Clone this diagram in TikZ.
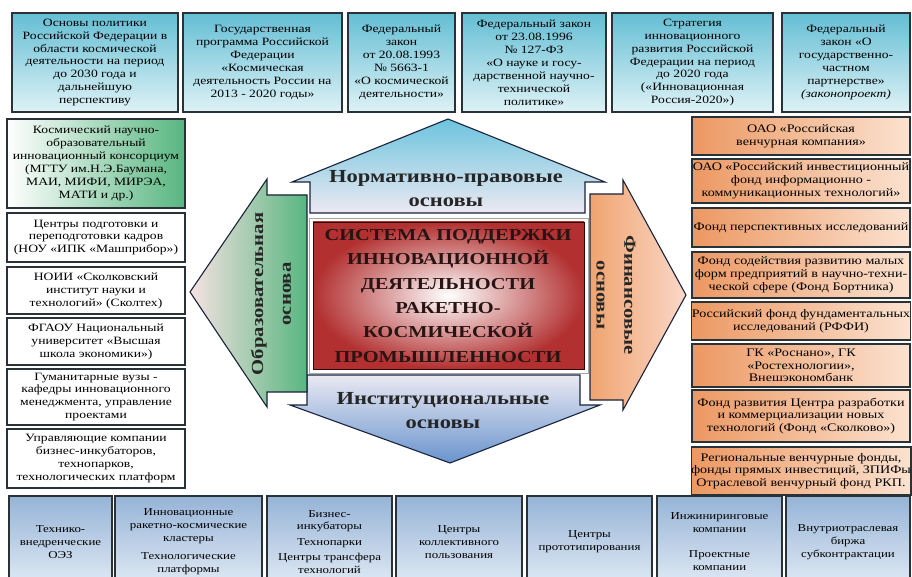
\documentclass[tikz,border=0pt]{standalone}
\usepackage{fontspec}
\setmainfont{Liberation Serif}[FakeStretch=1.22]
\usepackage{xcolor}
\usepackage{tikz}
\usetikzlibrary{positioning,shapes.geometric,calc}

\definecolor{edgegray}{RGB}{40,50,55}
\definecolor{arrowedge}{RGB}{25,35,60}
\definecolor{lawdark}{RGB}{100,190,212}
\definecolor{lawlight}{RGB}{222,242,246}
\definecolor{instdark}{RGB}{150,180,215}
\definecolor{instlight}{RGB}{226,235,245}
\definecolor{findark}{RGB}{236,152,98}
\definecolor{finlight}{RGB}{251,226,208}
\definecolor{edugreen}{RGB}{88,182,128}
\definecolor{corered}{RGB}{178,48,48}

\tikzset{
  box/.style={draw=edgegray, line width=1.1bp, align=center, inner sep=0pt,
    font=\fontsize{11.2}{13}\selectfont, text=black},
  every node/.style={anchor=center}
}

\begin{document}
\begin{tikzpicture}[
  x=1bp, y=-1bp,
  lawbox/.style={box, top color=lawdark, bottom color=lawlight, minimum height=99bp},
  edubox/.style={box, fill=white, minimum width=178bp},
  finbox/.style={box, left color=findark, right color=finlight, minimum width=218bp,
    font=\fontsize{11.6}{12.8}\selectfont},
  instbox/.style={box, top color=instdark, bottom color=instlight, minimum height=92bp,
    font=\fontsize{10.6}{13}\selectfont},
  bigarrow/.style={draw=arrowedge, line width=1.1bp, line join=miter},
  arrowtext/.style={align=center, font=\bfseries\fontsize{18.5}{24}\selectfont, text=black!85}
]
\useasboundingbox (0,0) rectangle (912,577);
\fill[white] (0,0) rectangle (912,577);
\clip (0,0) rectangle (912,577);

% top row: legal base
\node[lawbox, minimum width=166bp] (lawA) at (95,62.5)
  {Основы политики\\Российской Федерации в\\области космической\\деятельности на период\\до 2030 года и\\дальнейшую\\перспективу};
\node[lawbox, minimum width=159bp] (lawB) at (262.5,62.5)
  {Государственная\\программа Российской\\Федерации\\«Космическая\\деятельность России на\\2013 - 2020 годы»};
\node[lawbox, minimum width=107bp] (lawC) at (401.5,62.5)
  {Федеральный\\закон\\от 20.08.1993\\№ 5663-1\\«О космической\\деятельности»};
\node[lawbox, minimum width=144bp] (lawD) at (534,62.5)
  {Федеральный закон\\от 23.08.1996\\№ 127-ФЗ\\«О науке и госу-\\дарственной научно-\\технической\\политике»};
\node[lawbox, minimum width=161bp] (lawE) at (692.5,62.5)
  {Стратегия\\инновационного\\развития Российской\\Федерации на период\\до 2020 года\\(«Инновационная\\Россия-2020»)};
\node[lawbox, minimum width=128bp] (lawF) at (846,62.5)
  {Федеральный\\закон «О\\государственно-\\частном\\партнерстве»\\\textit{(законопроект)}};

% left column: education
\node[edubox, minimum height=89bp, left color=white, right color=edugreen] (eduA) at (96,163.5)
  {Космический научно-\\образовательный\\инновационный консорциум\\(МГТУ им.Н.Э.Баумана,\\МАИ, МИФИ, МИРЭА,\\МАТИ и др.)};
\node[edubox, minimum height=49bp] (eduB) at (96,237.5)
  {Центры подготовки и\\переподготовки кадров\\(НОУ «ИПК «Машприбор»)};
\node[edubox, minimum height=47bp] (eduC) at (96,290.5)
  {НОИИ «Сколковский\\институт науки и\\технологий» (Сколтех)};
\node[edubox, minimum height=47bp] (eduD) at (96,341.5)
  {ФГАОУ Национальный\\университет «Высшая\\школа экономики»)};
\node[edubox, minimum height=56bp] (eduE) at (96,397)
  {Гуманитарные вузы -\\кафедры инновационного\\менеджмента, управление\\проектами};
\node[edubox, minimum height=59bp] (eduF) at (96,458.5)
  {Управляющие компании\\бизнес-инкубаторов,\\технопарков,\\технологических платформ};

% right column: finance
\node[finbox, minimum height=38bp] (finA) at (801,136)
  {ОАО «Российская\\венчурная компания»};
\node[finbox, minimum height=44bp] (finB) at (801,181)
  {ОАО «Российский инвестиционный\\фонд информационно -\\коммуникационных технологий»};
\node[finbox, minimum height=39bp] (finC) at (801,227.5)
  {Фонд перспективных исследований};
\node[finbox, minimum height=46bp] (finD) at (801,275)
  {Фонд содействия развитию малых\\форм предприятий в научно-техни-\\ческой сфере (Фонд Бортника)};
\node[finbox, minimum height=38bp] (finE) at (801,321)
  {Российский фонд фундаментальных\\исследований (РФФИ)};
\node[finbox, minimum height=43bp] (finF) at (801,365.5)
  {ГК «Роснано», ГК\\«Ростехнологии»,\\Внешэкономбанк};
\node[finbox, minimum height=52bp] (finG) at (801,416)
  {Фонд развития Центра разработки\\и коммерциализации новых\\технологий (Фонд «Сколково»)};
\node[finbox, minimum height=48bp] (finH) at (801,471)
  {Региональные венчурные фонды,\\фонды прямых инвестиций, ЗПИФы\\Отраслевой венчурный фонд РКП.};

% bottom row: institutions
\node[instbox, minimum width=103bp] (instA) at (60.5,542)
  {Технико-\\внедренческие\\ОЭЗ};
\node[instbox, minimum width=147bp] (instB) at (188.5,542)
  {Инновационные\\ракетно-космические\\кластеры\\[5bp]Технологические\\платформы};
\node[instbox, minimum width=125bp] (instC) at (329.5,542)
  {Бизнес-\\инкубаторы\\[3bp]Технопарки\\[2bp]Центры трансфера\\технологий};
\node[instbox, minimum width=126bp] (instD) at (459,542)
  {Центры\\коллективного\\пользования};
\node[instbox, minimum width=125bp] (instE) at (589.5,542)
  {Центры\\прототипирования};
\node[instbox, minimum width=125bp] (instF) at (719.5,542)
  {Инжиниринговые\\компании\\[12bp]Проектные\\компании};
\node[instbox, minimum width=124bp] (instG) at (848,542)
  {Внутриотраслевая\\биржа\\субконтрактации};

% four big arrows round the core
\path[bigarrow, top color={rgb,255:red,108;green,196;blue,222}, bottom color={rgb,255:red,236;green,233;blue,242}]
  (310,213) -- (310,182) -- (292,182) -- (448,119) -- (605,182) -- (585,182) -- (585,213) -- cycle;
\path[bigarrow, top color={rgb,255:red,234;green,233;blue,243}, bottom color={rgb,255:red,105;green,148;blue,205}]
  (307,375) -- (580,375) -- (580,405) -- (600,405) -- (450,463) -- (290,405) -- (307,405) -- cycle;
\path[bigarrow, left color={rgb,255:red,246;green,226;blue,226}, right color=edugreen]
  (307,195) -- (267,195) -- (267,179) -- (190,292) -- (267,407) -- (267,392) -- (307,392) -- cycle;
\path[bigarrow, left color={rgb,255:red,240;green,164;blue,112}, right color={rgb,255:red,250;green,216;blue,200}]
  (590,194) -- (623,194) -- (623,180) -- (686,295) -- (623,410) -- (623,400) -- (590,400) -- cycle;

% core
\draw[black!35, line width=0.8bp] (309,218) rectangle (588,373);
\shade[inner color=white, outer color=corered, draw=black!80!red, line width=0.9bp]
  (313,222) rectangle (584,369);

% labels
\node[arrowtext] (normlbl) at (446,189) {Нормативно-правовые\\основы};
\node[arrowtext] (instlbl) at (443,411) {Институциональные\\основы};
\node[arrowtext, font=\bfseries\fontsize{17}{28}\selectfont, rotate=90] (edulbl) at (271,294) {Образовательная\\основа};
\node[arrowtext, font=\bfseries\fontsize{17}{28}\selectfont, rotate=-90] (finlbl) at (616,295) {Финансовые\\основы};
\node[align=center, font=\bfseries\fontsize{16.8}{24.4}\selectfont, text={rgb,255:red,40;green,20;blue,20}] (core) at (448,296)
  {СИСТЕМА ПОДДЕРЖКИ\\ИННОВАЦИОННОЙ\\ДЕЯТЕЛЬНОСТИ\\РАКЕТНО-\\КОСМИЧЕСКОЙ\\ПРОМЫШЛЕННОСТИ};

\end{tikzpicture}
\end{document}
